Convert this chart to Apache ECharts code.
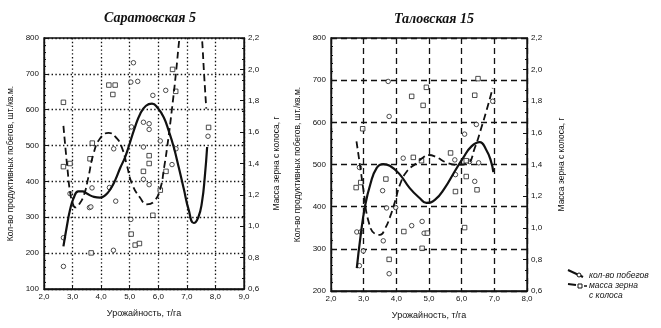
<!DOCTYPE html>
<html><head><meta charset="utf-8">
<script src="https://cdn.jsdelivr.net/npm/echarts@6/dist/echarts.min.js"></script>
<style>html,body{margin:0;padding:0;background:#fff}#c{width:661px;height:328px}</style>
</head><body><div id="c"></div>
<script>
// ---------- DATA ----------
const titles = ['Саратовская 5', 'Таловская 15'];
const xName = 'Урожайность, т/га';
const yLeftName = 'Кол-во продуктивных побегов, шт./кв.м.';
const yRightName = 'Масса зерна с колоса, г';
const legendNames = ['кол-во побегов', 'масса зерна', 'с колоса'];

// Саратовская 5 : shoots (circles, left axis)
const sarShootPts = [[2.68,243],[2.68,163],[2.91,366],[3.59,327],[3.64,329],[3.68,382],[4.29,383],[4.43,208],[4.44,491],[4.51,345],[5.04,294],[5.04,677],[5.06,552],[5.13,731],[5.28,679],[5.48,565],[5.48,496],[5.48,406],[5.68,561],[5.68,545],[5.68,391],[5.81,640],[6.07,513],[6.26,654],[6.48,447],[6.62,491],[7.74,526]];
// Саратовская 5 : grain mass (squares, right axis)
const sarMassPts = [[2.68,1.79],[2.68,1.38],[2.91,1.40],[3.61,1.43],[3.65,0.83],[3.69,1.53],[4.27,1.90],[4.41,1.84],[4.49,1.90],[5.05,0.95],[5.19,0.88],[5.34,0.89],[5.48,1.35],[5.68,1.45],[5.68,1.40],[5.81,1.07],[6.07,1.23],[6.27,1.35],[6.5,2.0],[6.61,1.86],[7.76,1.63]];
const sarShootFit = [[2.68,219],[2.8,275],[2.91,320],[3.03,352],[3.2,372],[3.35,372],[3.5,366],[3.75,357],[3.96,355],[4.15,362],[4.32,378],[4.5,405],[4.67,438],[4.84,468],[4.96,496],[5.17,548],[5.37,589],[5.57,611],[5.78,617],[5.98,605],[6.19,579],[6.37,540],[6.54,496],[6.72,438],[6.89,380],[7.06,322],[7.24,284],[7.4,300],[7.53,343],[7.63,415],[7.71,496]];
const sarMassFit = [[2.68,1.64],[2.75,1.50],[2.83,1.35],[2.91,1.22],[3.0,1.15],[3.1,1.12],[3.23,1.14],[3.4,1.20],[3.55,1.31],[3.73,1.46],[3.96,1.56],[4.26,1.595],[4.55,1.56],[4.73,1.50],[4.9,1.39],[5.08,1.27],[5.37,1.18],[5.6,1.14],[5.86,1.16],[6.07,1.24],[6.2,1.37],[6.33,1.53],[6.48,1.75],[6.62,1.98],[6.74,2.2],[6.9,2.45],[7.1,2.6],[7.3,2.55],[7.45,2.4],[7.53,2.2],[7.6,1.98],[7.68,1.75]];

// Таловская 15
const talShootPts = [[3.75,697],[3.78,614],[4.21,515],[2.87,493],[3.58,438],[3.70,397],[3.98,398],[2.79,340],[2.91,340],[2.99,295],[3.60,319],[4.47,355],[4.79,365],[4.85,337],[2.87,260],[3.78,241],[6.95,650],[6.45,595],[6.09,572],[5.79,511],[6.24,507],[6.52,504],[5.81,476],[6.40,460]];
const talMassPts = [[4.92,1.888],[4.47,1.831],[4.82,1.774],[2.97,1.626],[4.52,1.445],[4.77,1.424],[2.77,1.254],[2.91,1.286],[3.68,1.308],[4.23,0.976],[4.95,0.966],[4.79,0.870],[3.78,0.80],[6.50,1.943],[6.40,1.838],[5.66,1.473],[6.14,1.424],[6.14,1.324],[6.47,1.24],[5.81,1.229],[6.09,1.001]];
const talShootFit = [[2.79,254],[2.91,333],[3.04,400],[3.2,452],[3.4,492],[3.6,501],[3.8,497],[4.11,476],[4.41,444],[4.72,420],[4.92,409],[5.18,416],[5.48,444],[5.79,484],[6.04,515],[6.3,543],[6.55,553],[6.75,535],[6.9,507],[6.97,482]];
const talMassFit = [[2.78,1.546],[2.9,1.377],[3.0,1.229],[3.15,1.039],[3.35,0.961],[3.5,0.955],[3.66,0.997],[3.81,1.07],[3.96,1.166],[4.11,1.272],[4.32,1.356],[4.62,1.409],[4.82,1.445],[5.0,1.46],[5.18,1.451],[5.58,1.409],[5.89,1.398],[6.19,1.409],[6.4,1.504],[6.6,1.631],[6.8,1.77],[6.95,1.884]];

// ---------- CHART ----------
const ink = '#111';
const font = 'Liberation Sans, Arial, sans-serif';
const fmt1 = v => v.toFixed(1).replace('.', ',');
const dotted = {color: ink, width: 1.3, type: [1.4, 2.4]};
const dashed = {color: ink, width: 1.3, type: [6, 4]};

function xAx(gi, max, grid) {
  return {type:'value', gridIndex:gi, min:2, max:max, interval:1,
    name:xName, nameLocation:'middle', nameGap:20,
    nameTextStyle:{color:ink, fontSize:9, fontFamily:font},
    axisLine:{lineStyle:{color:ink, width:1.3}},
    axisTick:{show:true, inside:true, length:3, lineStyle:{color:ink}},
    axisLabel:{color:ink, fontSize:8, fontFamily:font, margin:4, formatter:fmt1, showMinLabel:true, showMaxLabel:true},
    splitLine:{show:true, lineStyle:grid}};
}
function yLeft(gi, min, grid) {
  return {type:'value', gridIndex:gi, position:'left', min:min, max:800, interval:100,
    name:yLeftName, nameLocation:'middle', nameGap:29, nameRotate:90,
    nameTextStyle:{color:ink, fontSize:8.5, fontFamily:font},
    axisLine:{show:true, lineStyle:{color:ink, width:1.3}},
    axisTick:{show:true, inside:true, length:4, lineStyle:{color:ink}},
    minorTick:{show:true, splitNumber:5, length:2, lineStyle:{color:ink}},
    axisLabel:{color:ink, fontSize:8, fontFamily:font, margin:5},
    splitLine:{show:true, lineStyle:grid}};
}
function yRight(gi, gap) {
  return {type:'value', gridIndex:gi, position:'right', min:0.6, max:2.2, interval:0.2,
    name:yRightName, nameLocation:'middle', nameGap:gap, nameRotate:90,
    nameTextStyle:{color:ink, fontSize:8.5, fontFamily:font},
    axisLine:{show:true, lineStyle:{color:ink, width:1.3}},
    axisTick:{show:true, inside:true, length:4, lineStyle:{color:ink}},
    minorTick:{show:true, splitNumber:3, length:2, lineStyle:{color:ink}},
    axisLabel:{color:ink, fontSize:8, fontFamily:font, margin:4, formatter:fmt1},
    splitLine:{show:false}};
}
function pts(data, xi, yi, sym) {
  return {type:'scatter', xAxisIndex:xi, yAxisIndex:yi, data:data, symbol:sym, symbolSize: sym==='rect'?4.5:4.5,
    itemStyle:{color:'#fff', borderColor:'#222', borderWidth:1}, z:3};
}
function fit(data, xi, yi, solid) {
  return {type:'line', xAxisIndex:xi, yAxisIndex:yi, data:data, smooth:true, showSymbol:false, symbol:'none',
    clip:true, lineStyle: solid ? {color:ink, width:2.2} : {color:ink, width:1.8, type:[7,4]}, z:4};
}

const chart = echarts.init(document.getElementById('c'), null, {renderer:'canvas'});
chart.setOption({
  backgroundColor:'#fff',
  animation:false,
  title:[
    {text:titles[0], left:145, top:6, textAlign:'center', textStyle:{fontFamily:'Liberation Serif, Times New Roman, serif', fontStyle:'italic', fontWeight:'bold', fontSize:14, color:ink}},
    {text:titles[1], left:429, top:7, textAlign:'center', textStyle:{fontFamily:'Liberation Serif, Times New Roman, serif', fontStyle:'italic', fontWeight:'bold', fontSize:14, color:ink}}
  ],
  grid:[
    {left:44, right:417, top:38, bottom:39, show:true, borderColor:ink, borderWidth:1.3, backgroundColor:'transparent'},
    {left:331, right:134, top:38, bottom:37, show:true, borderColor:ink, borderWidth:1.3, backgroundColor:'transparent'}
  ],
  xAxis:[xAx(0, 9, dotted), xAx(1, 8, dashed)],
  yAxis:[yLeft(0, 100, dotted), yRight(0, 28), yLeft(1, 200, dashed), yRight(1, 30)],
  series:[
    pts(sarShootPts, 0, 0, 'circle'),
    pts(sarMassPts, 0, 1, 'rect'),
    fit(sarShootFit, 0, 0, true),
    fit(sarMassFit, 0, 1, false),
    pts(talShootPts, 1, 2, 'circle'),
    pts(talMassPts, 1, 3, 'rect'),
    fit(talShootFit, 1, 2, true),
    fit(talMassFit, 1, 3, false)
  ],
  graphic:[
    {type:'line', shape:{x1:568, y1:270, x2:583, y2:277}, style:{stroke:ink, lineWidth:2}},
    {type:'circle', shape:{cx:579, cy:275, r:2}, style:{fill:'#fff', stroke:ink, lineWidth:1}},
    {type:'text', left:589, top:271, style:{text:legendNames[0], fill:ink, font:'italic 8.5px '+font}},
    {type:'line', shape:{x1:568, y1:284, x2:576, y2:285}, style:{stroke:ink, lineWidth:1.8}},
    {type:'line', shape:{x1:584, y1:286, x2:587, y2:286}, style:{stroke:ink, lineWidth:1.5}},
    {type:'rect', shape:{x:578, y:284, width:4, height:4}, style:{fill:'#fff', stroke:ink, lineWidth:1}},
    {type:'text', left:589, top:281, style:{text:legendNames[1], fill:ink, font:'italic 8.5px '+font}},
    {type:'text', left:589, top:291, style:{text:legendNames[2], fill:ink, font:'italic 8.5px '+font}}
  ]
});
</script></body></html>
